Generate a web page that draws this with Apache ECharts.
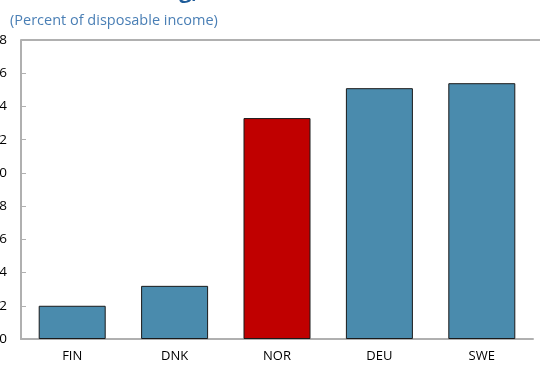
<!DOCTYPE html>
<html>
<head>
<meta charset="utf-8">
<script src="https://cdn.jsdelivr.net/npm/echarts@6/dist/echarts.min.js"></script>
<style>html,body{margin:0;padding:0;background:#fff;}#c{width:540px;height:368px;}</style>
</head>
<body>
<div id="c"></div>
<script>
var categories = ['FIN', 'DNK', 'NOR', 'DEU', 'SWE'];
var values = [2.0, 3.2, 13.3, 15.1, 15.4];
var highlight = 'NOR';
var yTicks = [0, 2, 4, 6, 8, 10, 12, 14, 16, 18];

var chart = echarts.init(document.getElementById('c'), null, {renderer: 'canvas'});
var blue = '#4a8bad', red = '#c00000';
chart.setOption({
  animation: false,
  backgroundColor: '#fff',
  title: [
    {text: 'Household Saving, 2017', left: -8, top: -24,
     textStyle: {fontFamily: 'Open Sans', fontSize: 22, fontWeight: 'bold', color: '#1f5c99'}},
    {text: '(Percent of disposable income)', left: 5, top: 8,
     textStyle: {fontFamily: 'Open Sans', fontSize: 14.5, fontWeight: 'normal', color: '#4a7fb5'}}
  ],
  grid: {left: 21, right: 7, top: 40, bottom: 29, outerBoundsMode: 'none', containLabel: false},
  xAxis: {
    type: 'category', data: categories,
    axisLine: {lineStyle: {color: '#b0b0b0', width: 2}},
    axisTick: {inside: true, length: 5, lineStyle: {color: '#b0b0b0'}},
    axisLabel: {margin: 11, fontFamily: 'Open Sans', fontSize: 13, color: '#000'}
  },
  yAxis: {
    type: 'value', min: yTicks[0], max: yTicks[yTicks.length - 1], interval: 2,
    axisLine: {show: true, lineStyle: {color: '#b0b0b0', width: 2}},
    axisTick: {show: true, inside: true, length: 5, lineStyle: {color: '#b0b0b0'}},
    splitLine: {show: false},
    axisLabel: {margin: 14, fontFamily: 'Open Sans', fontSize: 13.5, color: '#000'}
  },
  graphic: [{
    type: 'line', shape: {x1: 21, y1: 40, x2: 540, y2: 40},
    style: {stroke: '#b0b0b0', lineWidth: 2}, z: 0
  }],
  series: [{
    type: 'bar', barWidth: 67,
    data: values.map(function (v, i) {
      return {value: v, itemStyle: {color: categories[i] === highlight ? red : blue}};
    }),
    itemStyle: {borderColor: '#1a1a1a', borderWidth: 1}
  }]
});
</script>
</body>
</html>
